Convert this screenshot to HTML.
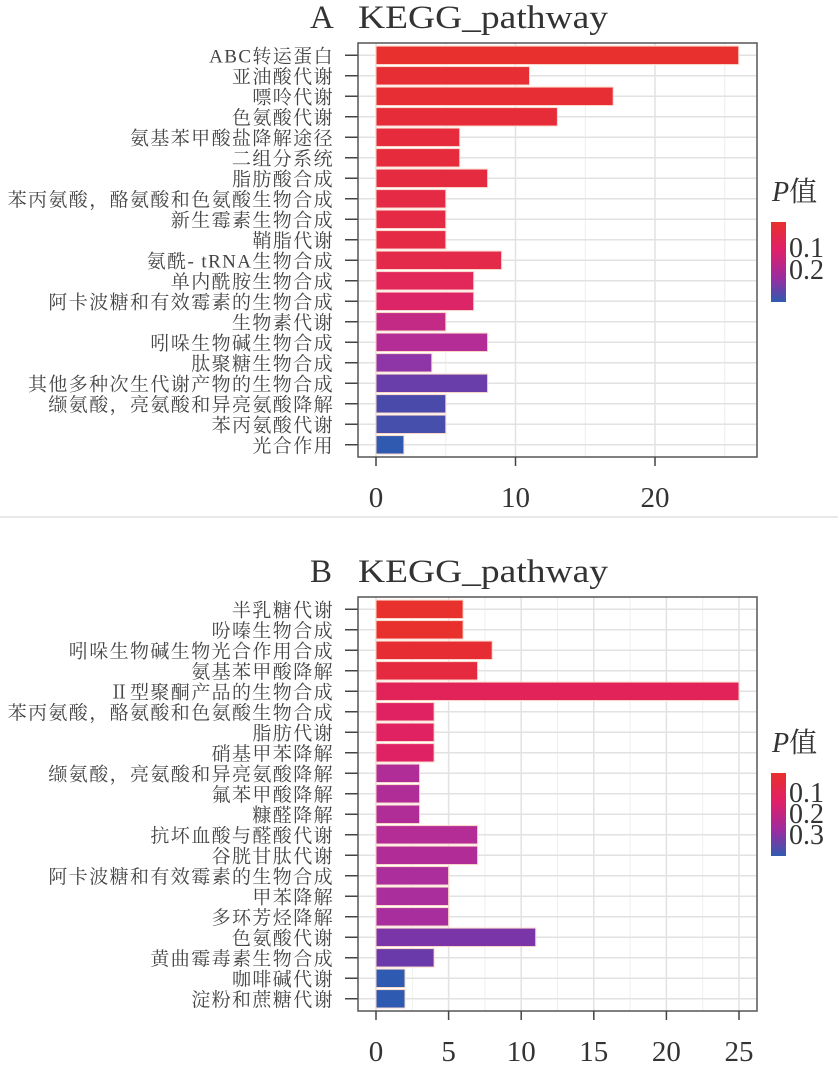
<!DOCTYPE html>
<html><head><meta charset="utf-8"><style>
html,body{margin:0;padding:0;background:#fff;}
svg{display:block;font-family:"Liberation Serif","Noto Serif CJK SC",serif;}
.lab{font-size:19px;letter-spacing:1.4px;fill:#444;text-anchor:end;}
.tk{font-size:29px;fill:#333;text-anchor:middle;}
.bar rect{stroke:#fbd5c8;stroke-width:1;}
.ttl{font-size:33px;fill:#333;}
</style></head><body>
<svg width="838" height="1070" viewBox="0 0 838 1070" xmlns="http://www.w3.org/2000/svg">
<defs>
<linearGradient id="g1" x1="0" y1="0" x2="0" y2="1">
<stop offset="0" stop-color="#e8302c"/><stop offset="0.35" stop-color="#e0206a"/><stop offset="0.7" stop-color="#9a2ca0"/><stop offset="1" stop-color="#2f5bb0"/></linearGradient>
</defs>
<rect x="0" y="516" width="838" height="2" fill="#e8e8e8"/>

<!-- Panel A -->
<g>
<text class="ttl" x="310" y="28">A</text>
<text class="ttl" x="358" y="28" textLength="250" lengthAdjust="spacingAndGlyphs">KEGG_pathway</text>
<path d="M445.75 43V457M585.25 43V457M724.75 43V457" stroke="#eeeeee" stroke-width="1"/>
<path d="M376 43V457M515.5 43V457M655 43V457" stroke="#e2e2e2" stroke-width="1.5"/>
<path d="M358 55.3H757M358 75.8H757M358 96.3H757M358 116.8H757M358 137.3H757M358 157.8H757M358 178.3H757M358 198.8H757M358 219.3H757M358 239.8H757M358 260.3H757M358 280.8H757M358 301.3H757M358 321.8H757M358 342.3H757M358 362.8H757M358 383.3H757M358 403.8H757M358 424.3H757M358 444.8H757" stroke="#e2e2e2" stroke-width="1.5"/>
<g class="bar">
<rect x="376" y="46.1" width="362.7" height="18.4" fill="#e8302e"/>
<rect x="376" y="66.6" width="153.5" height="18.4" fill="#e72e34"/>
<rect x="376" y="87.1" width="237.2" height="18.4" fill="#e72e34"/>
<rect x="376" y="107.6" width="181.4" height="18.4" fill="#e62c38"/>
<rect x="376" y="128.1" width="83.7" height="18.4" fill="#e62c3c"/>
<rect x="376" y="148.6" width="83.7" height="18.4" fill="#e62c3c"/>
<rect x="376" y="169.1" width="111.6" height="18.4" fill="#e52b40"/>
<rect x="376" y="189.6" width="69.8" height="18.4" fill="#e52a46"/>
<rect x="376" y="210.1" width="69.8" height="18.4" fill="#e52a46"/>
<rect x="376" y="230.6" width="69.8" height="18.4" fill="#e52a46"/>
<rect x="376" y="251.1" width="125.6" height="18.4" fill="#e42a4a"/>
<rect x="376" y="271.6" width="97.7" height="18.4" fill="#e2275a"/>
<rect x="376" y="292.1" width="97.7" height="18.4" fill="#db2566"/>
<rect x="376" y="312.6" width="69.8" height="18.4" fill="#c32a86"/>
<rect x="376" y="333.1" width="111.6" height="18.4" fill="#b42c96"/>
<rect x="376" y="353.6" width="55.8" height="18.4" fill="#8e36a8"/>
<rect x="376" y="374.1" width="111.6" height="18.4" fill="#6a3eaa"/>
<rect x="376" y="394.6" width="69.8" height="18.4" fill="#4a4aaa"/>
<rect x="376" y="415.1" width="69.8" height="18.4" fill="#4650ac"/>
<rect x="376" y="435.6" width="27.9" height="18.4" fill="#2f5ab0"/>
</g>
<path d="M345 55.3H358M345 75.8H358M345 96.3H358M345 116.8H358M345 137.3H358M345 157.8H358M345 178.3H358M345 198.8H358M345 219.3H358M345 239.8H358M345 260.3H358M345 280.8H358M345 301.3H358M345 321.8H358M345 342.3H358M345 362.8H358M345 383.3H358M345 403.8H358M345 424.3H358M345 444.8H358" stroke="#444" stroke-width="1.5"/>
<text class="lab" x="334" y="62.3">ABC转运蛋白</text>
<text class="lab" x="334" y="82.8">亚油酸代谢</text>
<text class="lab" x="334" y="103.3">嘌呤代谢</text>
<text class="lab" x="334" y="123.8">色氨酸代谢</text>
<text class="lab" x="334" y="144.3">氨基苯甲酸盐降解途径</text>
<text class="lab" x="334" y="164.8">二组分系统</text>
<text class="lab" x="334" y="185.3">脂肪酸合成</text>
<text class="lab" x="334" y="205.8">苯丙氨酸，酪氨酸和色氨酸生物合成</text>
<text class="lab" x="334" y="226.3">新生霉素生物合成</text>
<text class="lab" x="334" y="246.8">鞘脂代谢</text>
<text class="lab" x="334" y="267.3">氨酰- tRNA生物合成</text>
<text class="lab" x="334" y="287.8">单内酰胺生物合成</text>
<text class="lab" x="334" y="308.3">阿卡波糖和有效霉素的生物合成</text>
<text class="lab" x="334" y="328.8">生物素代谢</text>
<text class="lab" x="334" y="349.3">吲哚生物碱生物合成</text>
<text class="lab" x="334" y="369.8">肽聚糖生物合成</text>
<text class="lab" x="334" y="390.3">其他多种次生代谢产物的生物合成</text>
<text class="lab" x="334" y="410.8">缬氨酸，亮氨酸和异亮氨酸降解</text>
<text class="lab" x="334" y="431.3">苯丙氨酸代谢</text>
<text class="lab" x="334" y="451.8">光合作用</text>
<rect x="358" y="43" width="399" height="414" fill="none" stroke="#555" stroke-width="1.5"/>
<path d="M376 457V466M515.5 457V466M655 457V466" stroke="#444" stroke-width="1.5"/>
<text class="tk" x="376" y="507">0</text>
<text class="tk" x="515.5" y="507">10</text>
<text class="tk" x="655" y="507">20</text>
</g>

<!-- Panel B -->
<g transform="translate(0,554)">
<text class="ttl" x="310" y="28">B</text>
<text class="ttl" x="358" y="28" textLength="250" lengthAdjust="spacingAndGlyphs">KEGG_pathway</text>
<path d="M412.3 43V457M484.9 43V457M557.5 43V457M630.1 43V457M702.7 43V457" stroke="#eeeeee" stroke-width="1"/>
<path d="M376 43V457M448.6 43V457M521.2 43V457M593.8 43V457M666.4 43V457M739 43V457" stroke="#e2e2e2" stroke-width="1.5"/>
<path d="M358 55.3H757M358 75.8H757M358 96.3H757M358 116.8H757M358 137.3H757M358 157.8H757M358 178.3H757M358 198.8H757M358 219.3H757M358 239.8H757M358 260.3H757M358 280.8H757M358 301.3H757M358 321.8H757M358 342.3H757M358 362.8H757M358 383.3H757M358 403.8H757M358 424.3H757M358 444.8H757" stroke="#e2e2e2" stroke-width="1.5"/>
<g class="bar">
<rect x="376" y="46.1" width="87.1" height="18.4" fill="#e8302c"/>
<rect x="376" y="66.6" width="87.1" height="18.4" fill="#e8302c"/>
<rect x="376" y="87.1" width="116.2" height="18.4" fill="#e72d34"/>
<rect x="376" y="107.6" width="101.6" height="18.4" fill="#e52a40"/>
<rect x="376" y="128.1" width="363" height="18.4" fill="#e2235a"/>
<rect x="376" y="148.6" width="58.1" height="18.4" fill="#e02262"/>
<rect x="376" y="169.1" width="58.1" height="18.4" fill="#e02262"/>
<rect x="376" y="189.6" width="58.1" height="18.4" fill="#df2264"/>
<rect x="376" y="210.1" width="43.6" height="18.4" fill="#b02c96"/>
<rect x="376" y="230.6" width="43.6" height="18.4" fill="#b02c96"/>
<rect x="376" y="251.1" width="43.6" height="18.4" fill="#b02c96"/>
<rect x="376" y="271.6" width="101.6" height="18.4" fill="#b42c96"/>
<rect x="376" y="292.1" width="101.6" height="18.4" fill="#b22c98"/>
<rect x="376" y="312.6" width="72.6" height="18.4" fill="#ab2e9c"/>
<rect x="376" y="333.1" width="72.6" height="18.4" fill="#aa2e9c"/>
<rect x="376" y="353.6" width="72.6" height="18.4" fill="#a82e9e"/>
<rect x="376" y="374.1" width="159.7" height="18.4" fill="#7a36a8"/>
<rect x="376" y="394.6" width="58.1" height="18.4" fill="#6a3aaa"/>
<rect x="376" y="415.1" width="29" height="18.4" fill="#2f5ab2"/>
<rect x="376" y="435.6" width="29" height="18.4" fill="#2f5ab2"/>
</g>
<path d="M345 55.3H358M345 75.8H358M345 96.3H358M345 116.8H358M345 137.3H358M345 157.8H358M345 178.3H358M345 198.8H358M345 219.3H358M345 239.8H358M345 260.3H358M345 280.8H358M345 301.3H358M345 321.8H358M345 342.3H358M345 362.8H358M345 383.3H358M345 403.8H358M345 424.3H358M345 444.8H358" stroke="#444" stroke-width="1.5"/>
<text class="lab" x="334" y="62.3">半乳糖代谢</text>
<text class="lab" x="334" y="82.8">吩嗪生物合成</text>
<text class="lab" x="334" y="103.3">吲哚生物碱生物光合作用合成</text>
<text class="lab" x="334" y="123.8">氨基苯甲酸降解</text>
<text class="lab" x="334" y="144.3">Ⅱ型聚酮产品的生物合成</text>
<text class="lab" x="334" y="164.8">苯丙氨酸，酪氨酸和色氨酸生物合成</text>
<text class="lab" x="334" y="185.3">脂肪代谢</text>
<text class="lab" x="334" y="205.8">硝基甲苯降解</text>
<text class="lab" x="334" y="226.3">缬氨酸，亮氨酸和异亮氨酸降解</text>
<text class="lab" x="334" y="246.8">氟苯甲酸降解</text>
<text class="lab" x="334" y="267.3">糠醛降解</text>
<text class="lab" x="334" y="287.8">抗坏血酸与醛酸代谢</text>
<text class="lab" x="334" y="308.3">谷胱甘肽代谢</text>
<text class="lab" x="334" y="328.8">阿卡波糖和有效霉素的生物合成</text>
<text class="lab" x="334" y="349.3">甲苯降解</text>
<text class="lab" x="334" y="369.8">多环芳烃降解</text>
<text class="lab" x="334" y="390.3">色氨酸代谢</text>
<text class="lab" x="334" y="410.8">黄曲霉毒素生物合成</text>
<text class="lab" x="334" y="431.3">咖啡碱代谢</text>
<text class="lab" x="334" y="451.8">淀粉和蔗糖代谢</text>
<rect x="358" y="43" width="399" height="414" fill="none" stroke="#555" stroke-width="1.5"/>
<path d="M376 457V466M448.6 457V466M521.2 457V466M593.8 457V466M666.4 457V466M739 457V466" stroke="#444" stroke-width="1.5"/>
<text class="tk" x="376" y="507">0</text>
<text class="tk" x="448.6" y="507">5</text>
<text class="tk" x="521.2" y="507">10</text>
<text class="tk" x="593.8" y="507">15</text>
<text class="tk" x="666.4" y="507">20</text>
<text class="tk" x="739" y="507">25</text>
</g>

<text x="772" y="201" font-size="28" fill="#333"><tspan font-style="italic">P</tspan>值</text>
<rect x="771" y="222" width="15" height="80" fill="url(#g1)"/>
<text x="789" y="257" font-size="28" fill="#333">0.1</text>
<text x="789" y="279" font-size="28" fill="#333">0.2</text>
<text x="772" y="752" font-size="28" fill="#333"><tspan font-style="italic">P</tspan>值</text>
<rect x="771" y="773" width="15" height="83" fill="url(#g1)"/>
<text x="789" y="802" font-size="28" fill="#333">0.1</text>
<text x="789" y="823" font-size="28" fill="#333">0.2</text>
<text x="789" y="844" font-size="28" fill="#333">0.3</text>
</svg>
</body></html>
